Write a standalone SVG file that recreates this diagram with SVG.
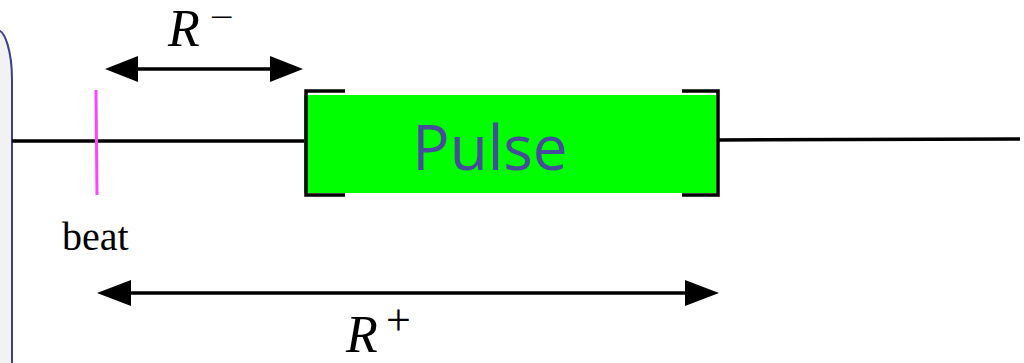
<svg xmlns="http://www.w3.org/2000/svg" width="1024" height="363" viewBox="0 0 1024 363">
<style>
.ln{stroke:#000;stroke-width:3.5;fill:none}
.lbl{font-family:"Liberation Serif",serif;fill:#000}
</style>
<rect width="1024" height="363" fill="#fff"/>
<g id="panel">
<path d="M-3 30 A15 50 0 0 1 12 80 L12 370 L-10 370 L-10 30 Z" fill="#f2f2f2"/>
<path d="M-3 30 A15 50 0 0 1 12 80 L12 370" fill="none" stroke="#3b3f8c" stroke-width="2"/>
</g>
<g id="connectors">
<line class="ln" x1="12" y1="141" x2="305" y2="141" stroke-width="3"/>
<line class="ln" x1="718" y1="140" x2="1020" y2="139" stroke-width="3"/>
<line class="ln" x1="138" y1="69" x2="270" y2="69"/>
<polygon points="105,69 138,56 138,82" fill="#000"/>
<polygon points="303,69 270,56 270,82" fill="#000"/>
<line class="ln" x1="130" y1="293" x2="686" y2="293"/>
<polygon points="97,293 131,280 131,306" fill="#000"/>
<polygon points="719,293 685,280 685,306" fill="#000"/>
</g>
<g id="beat">
<line x1="96" y1="90" x2="97" y2="195" stroke="#ff44ff" stroke-width="3"/>
<text class="lbl" x="62" y="250" font-size="40">beat</text>
</g>
<g id="pulse">
<rect x="304" y="95" width="412" height="98" fill="#00ff00"/>
<path d="M345 91 L306 91 L306 195 L345 195" class="ln"/>
<path d="M682 91 L718 91 L718 195 L682 195" class="ln"/>
<text x="490" y="170" font-family="Open Sans, sans-serif" font-size="62" fill="#464b9b" text-anchor="middle">Pulse</text>
</g>
<g id="rminus">
<text class="lbl" x="168" y="46" font-size="52" font-style="italic">R</text>
<text class="lbl" x="210" y="27" font-size="30" textLength="24" lengthAdjust="spacingAndGlyphs">−</text>
</g>
<g id="rplus">
<text class="lbl" x="346" y="352" font-size="52" font-style="italic">R</text>
<text class="lbl" x="386" y="335" font-size="44">+</text>
</g>
</svg>
